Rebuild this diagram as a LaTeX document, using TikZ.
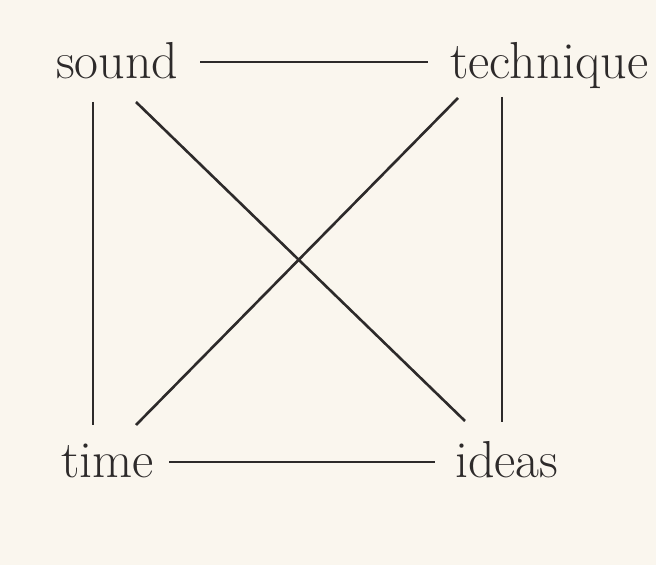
\documentclass[tikz,border=0pt]{standalone}
\usepackage{fontspec}
\definecolor{paper}{RGB}{250,246,238}
\definecolor{ink}{RGB}{45,42,42}
\tikzset{
  word/.style={inner sep=0pt,anchor=base west,text=ink,font=\fontsize{52}{58}\selectfont},
  link/.style={line width=2.6pt,draw=ink}
}

\begin{document}
\begin{tikzpicture}[x=1pt,y=1pt]
  % Page background
  \fill[paper] (0,0) rectangle (656,565);
  \useasboundingbox (0,0) rectangle (656,565);

  % Words at the four corners
  \node[word] (sound) at (56,486) {sound};
  \node[word] (technique) at (450,486) {technique};
  \node[word] (time) at (61,87) {time};
  \node[word] (ideas) at (455,87) {ideas};

  % Horizontal links
  \draw[link] ([xshift=144pt,yshift=17pt]sound.base west) -- ([xshift=-22pt,yshift=17pt]technique.base west);
  \draw[link] ([xshift=108pt,yshift=16pt]time.base west) -- ([xshift=-20pt,yshift=16pt]ideas.base west);

  % Vertical links
  \draw[link] ([xshift=37pt,yshift=-23pt]sound.base west) -- ([xshift=32pt,yshift=53pt]time.base west);
  \draw[link] ([xshift=52pt,yshift=-18pt]technique.base west) -- ([xshift=47pt,yshift=56pt]ideas.base west);

  % Diagonals
  \draw[link] ([xshift=80pt,yshift=-23pt]sound.base west) -- ([xshift=10pt,yshift=57pt]ideas.base west);
  \draw[link] ([xshift=8pt,yshift=-19pt]technique.base west) -- ([xshift=75pt,yshift=53pt]time.base west);
\end{tikzpicture}
\end{document}
